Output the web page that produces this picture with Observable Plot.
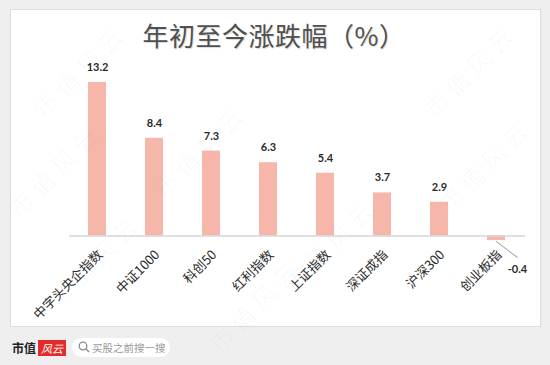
<!DOCTYPE html>
<html>
<head>
<meta charset="utf-8">
<script src="https://cdn.jsdelivr.net/npm/d3@7"></script>
<script src="https://cdn.jsdelivr.net/npm/@observablehq/plot@0.6"></script>
<style>
  html, body { margin: 0; padding: 0; }
  body { width: 550px; height: 365px; background: #efefef; overflow: hidden; position: relative; font-family: "Noto Sans CJK SC", "Noto Sans", sans-serif; }
  #panel { position: absolute; left: 10px; top: 9px; width: 531px; height: 318px; background: #fff; border: 1px solid #dcdcdc; box-sizing: border-box; }
  #title { position: absolute; left: 6px; width: 536px; top: 16px; text-align: center; font-size: 26px; color: #505050; letter-spacing: 0.5px; text-shadow: 1px 1px 1px rgba(0,0,0,0.15); }
  #chart { position: absolute; left: 0; top: 0; }
  .wm { position: absolute; font-size: 24px; color: rgba(0,0,0,0.04); transform: translate(-50%, -50%) rotate(-45deg); white-space: nowrap; letter-spacing: 6px; font-family: "Noto Sans CJK SC", sans-serif; font-weight: 300; line-height: 28px; }
  #footer-brand { position: absolute; left: 12px; top: 340px; font-size: 12px; font-weight: 700; color: #222; font-family: "Noto Sans CJK SC", serif; line-height: 16px; }
  #footer-red { position: absolute; left: 38px; top: 340px; width: 28px; height: 16px; background: #e42b2b; color: #fff; font-size: 11px; font-style: italic; line-height: 16px; text-align: center; }
  #pill { position: absolute; left: 72px; top: 338px; width: 98px; height: 19px; background: #fff; border-radius: 10px; }
  #pill span { position: absolute; left: 20px; top: 1px; font-size: 10.5px; color: #9a9a9a; line-height: 17px; }
  #pill svg { position: absolute; left: 6px; top: 3px; }
</style>
</head>
<body>
<div id="panel"></div>
<div id="title">年初至今涨跌幅（%）</div>
<div id="chart"></div>
<div class="wm" style="left:80px; top:70px;">市值风云</div>
<div class="wm" style="left:470px; top:70px;">市值风云</div>
<div class="wm" style="left:200px; top:150px;">市值风云</div>
<div class="wm" style="left:55px; top:170px;">市值风云</div>
<div class="wm" style="left:485px; top:165px;">市值风云</div>
<div class="wm" style="left:330px; top:245px;">市值风云</div>
<div class="wm" style="left:95px; top:260px;">市值风云</div>
<div class="wm" style="left:255px; top:305px;">市值风云</div>
<div id="footer-brand">市值</div>
<div id="footer-red">风云</div>
<div id="pill">
  <svg width="12" height="12" viewBox="0 0 12 12"><circle cx="5" cy="5" r="3.8" fill="none" stroke="#8a8a8a" stroke-width="1.3"/><line x1="7.8" y1="7.8" x2="11" y2="11" stroke="#8a8a8a" stroke-width="1.4"/></svg>
  <span>买股之前搜一搜</span>
</div>
<script>
const categories = ["中字头央企指数", "中证1000", "科创50", "红利指数", "上证指数", "深证成指", "沪深300", "创业板指"];
const values = [13.2, 8.4, 7.3, 6.3, 5.4, 3.7, 2.9, -0.4];
const valueLabels = ["13.2", "8.4", "7.3", "6.3", "5.4", "3.7", "2.9", "-0.4"];

const data = categories.map((c, i) => ({name: c, value: values[i], label: valueLabels[i]}));
const pos = data.filter(d => d.value >= 0);
const neg = data.filter(d => d.value < 0);

const lineShape = {
  draw(context, l) { context.moveTo(0, 0); context.lineTo(0, -l); }
};

const chart = Plot.plot({
  width: 550,
  height: 365,
  marginLeft: 69,
  marginRight: 25,
  marginTop: 72.7,
  marginBottom: 117.9,
  style: {background: "transparent", overflow: "visible"},
  x: {domain: categories, paddingInner: 0.684, paddingOuter: 0.342, axis: null},
  y: {domain: [-1, 14], axis: null},
  marks: [
    Plot.barY(data, {x: "name", y: "value", fill: "#f6b6aa"}),
    Plot.ruleY([0], {stroke: "#d6d6d6", strokeWidth: 1.5}),
    Plot.text(pos, {x: "name", y: "value", text: "label", dy: -15, fontSize: 11, fontWeight: "bold", fill: "#2b2b2b", fontFamily: "Lato, 'DejaVu Sans', sans-serif"}),
    Plot.vector(neg, {x: "name", y: "value", length: 26, rotate: 127, anchor: "start", dy: 1, stroke: "#a6a6a6", strokeWidth: 1, shape: lineShape}),
    Plot.text(neg, {x: "name", y: "value", text: "label", dx: 21, dy: 29, fontSize: 11, fontWeight: "bold", fill: "#2b2b2b", fontFamily: "Lato, 'DejaVu Sans', sans-serif"}),
    Plot.axisX({
      anchor: "bottom",
      tickSize: 0,
      tickPadding: 2,
      tickRotate: -45,
      dx: 3,
      dy: 3,
      fontSize: 13,
      fill: "#2b2b2b",
      fontFamily: "'Noto Sans CJK SC', serif",
      label: null
    })
  ]
});
document.getElementById("chart").appendChild(chart);
</script>
</body>
</html>
